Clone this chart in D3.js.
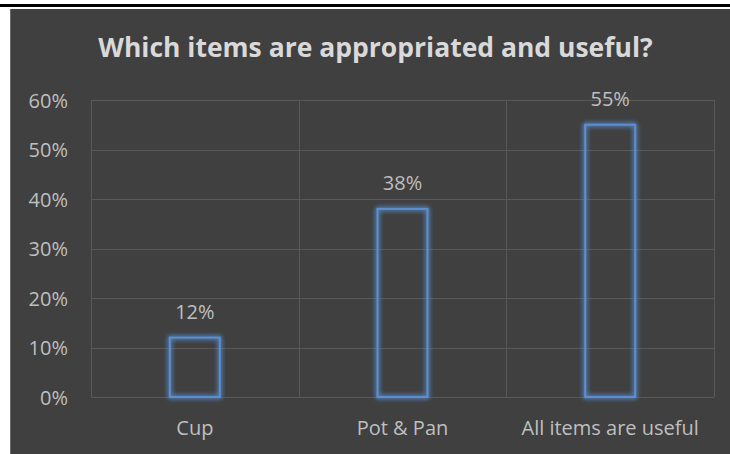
<!DOCTYPE html>
<html><head><meta charset="utf-8">
<script src="https://cdn.jsdelivr.net/npm/d3@7"></script>
<style>html,body{margin:0;padding:0;background:#fff;}svg{display:block;}</style>
</head><body>
<script>
const categories = ["Cup", "Pot & Pan", "All items are useful"];
const values = [0.12, 0.38, 0.55];
const yTicks = [0, 0.1, 0.2, 0.3, 0.4, 0.5, 0.6];
const title = "Which items are appropriated and useful?";

const W = 730, H = 454;
const font = "'Open Sans', sans-serif";
const svg = d3.select("body").append("svg").attr("width", W).attr("height", H);

const defs = svg.append("defs");
const f = defs.append("filter").attr("id","glow").attr("x","-50%").attr("y","-50%").attr("width","200%").attr("height","200%");
f.append("feGaussianBlur").attr("in","SourceGraphic").attr("stdDeviation",2.5).attr("result","b");
const m = f.append("feMerge");
m.append("feMergeNode").attr("in","b");
m.append("feMergeNode").attr("in","b");
m.append("feMergeNode").attr("in","SourceGraphic");

// page decorations
svg.append("rect").attr("x",0).attr("y",4).attr("width",W).attr("height",3).attr("fill","#000");
svg.append("rect").attr("x",10).attr("y",9).attr("width",W-10).attr("height",H-9).attr("fill","#404040");
svg.append("rect").attr("x",10).attr("y",9).attr("width",1).attr("height",H-9).attr("fill","#6a6a6a");

const plot = {l:91, r:714, t:100, b:397};
const x = d3.scaleBand().domain(categories).range([plot.l, plot.r]).paddingInner(0).paddingOuter(0);
const y = d3.scaleLinear().domain([0, 0.6]).range([plot.b, plot.t]);

// horizontal gridlines
svg.append("g").selectAll("line").data(yTicks).join("line")
  .attr("x1", plot.l).attr("x2", plot.r)
  .attr("y1", d => Math.round(y(d)) + 0.5).attr("y2", d => Math.round(y(d)) + 0.5)
  .attr("stroke", "#595959").attr("stroke-width", 1);
// vertical gridlines at category boundaries
const bounds = categories.map(c => x(c)).concat([plot.r]);
svg.append("g").selectAll("line").data(bounds).join("line")
  .attr("x1", d => Math.round(d) + 0.5).attr("x2", d => Math.round(d) + 0.5)
  .attr("y1", plot.t).attr("y2", plot.b)
  .attr("stroke", "#595959").attr("stroke-width", 1);

// y axis labels
const yAxis = d3.axisLeft(y).tickValues(yTicks).tickFormat(d3.format(".0%")).tickSize(0).tickPadding(0);
const ya = svg.append("g").attr("transform", `translate(68,0)`).call(yAxis);
ya.select(".domain").remove();
ya.selectAll("text").attr("font-family", font).attr("font-size", 20).attr("fill", "#bfbfbf").attr("dy","0.35em");

// x axis labels
const xAxis = d3.axisBottom(x).tickSize(0).tickPadding(0);
const xa = svg.append("g").attr("transform", `translate(0,${plot.b})`).call(xAxis);
xa.select(".domain").remove();
xa.selectAll("text").attr("font-family", font).attr("font-size", 20).attr("fill", "#bfbfbf").attr("dy", null).attr("y", 38);

// bars
const bw = 50;
svg.append("g").selectAll("rect").data(values).join("rect")
  .attr("x", (d,i) => x(categories[i]) + x.bandwidth()/2 - bw/2)
  .attr("y", d => y(d))
  .attr("width", bw)
  .attr("height", d => y(0) - y(d))
  .attr("fill", "none")
  .attr("stroke", "#5b8fd0").attr("stroke-width", 2)
  .attr("filter", "url(#glow)");

// value labels
svg.append("g").selectAll("text").data(values).join("text")
  .attr("x", (d,i) => x(categories[i]) + x.bandwidth()/2)
  .attr("y", d => y(d) - 19)
  .attr("text-anchor", "middle")
  .attr("font-family", font).attr("font-size", 20).attr("fill", "#bfbfbf")
  .text(d => d3.format(".0%")(d));

// title
svg.append("text").attr("x", 375.5).attr("y", 57).attr("text-anchor","middle")
  .attr("font-family", font).attr("font-size", 26.5).attr("font-weight","bold").attr("fill","#d9d9d9")
  .text(title);
</script>
</body></html>
